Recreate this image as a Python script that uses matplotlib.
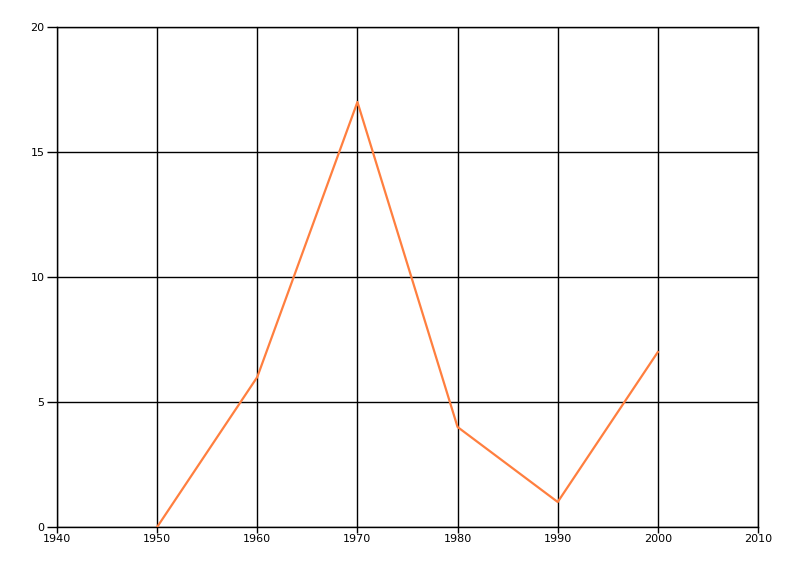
import matplotlib
matplotlib.use("Agg")
import matplotlib.pyplot as plt

anios = [1950, 1960, 1970, 1980, 1990, 2000]
valores = [0, 6, 17, 4, 1, 7]
x_ticks = [1940, 1950, 1960, 1970, 1980, 1990, 2000, 2010]
y_ticks = [0, 5, 10, 15, 20]

fig = plt.figure(figsize=(8, 5.76), dpi=100)
ax = fig.add_axes([57 / 800, 1 - 527 / 576, 701 / 800, 500 / 576])

ax.plot(anios, valores, color="#FF7F3F", linewidth=1.6, zorder=3)

ax.set_xlim(1940, 2010)
ax.set_ylim(0, 20)
ax.set_xticks(x_ticks)
ax.set_yticks(y_ticks)
ax.grid(True, color="black", linewidth=1.0)
ax.set_axisbelow(True)

# el borde superior y derecho coinciden con líneas de la grilla
for lado in ["left", "bottom", "top", "right"]:
    ax.spines[lado].set_linewidth(1.0)
    ax.spines[lado].set_color("black")

ax.tick_params(axis="y", length=7, width=1, labelsize=8, pad=2)
ax.tick_params(axis="x", length=4, width=1, labelsize=8, pad=1)

fig.savefig("out.png", dpi=100)
